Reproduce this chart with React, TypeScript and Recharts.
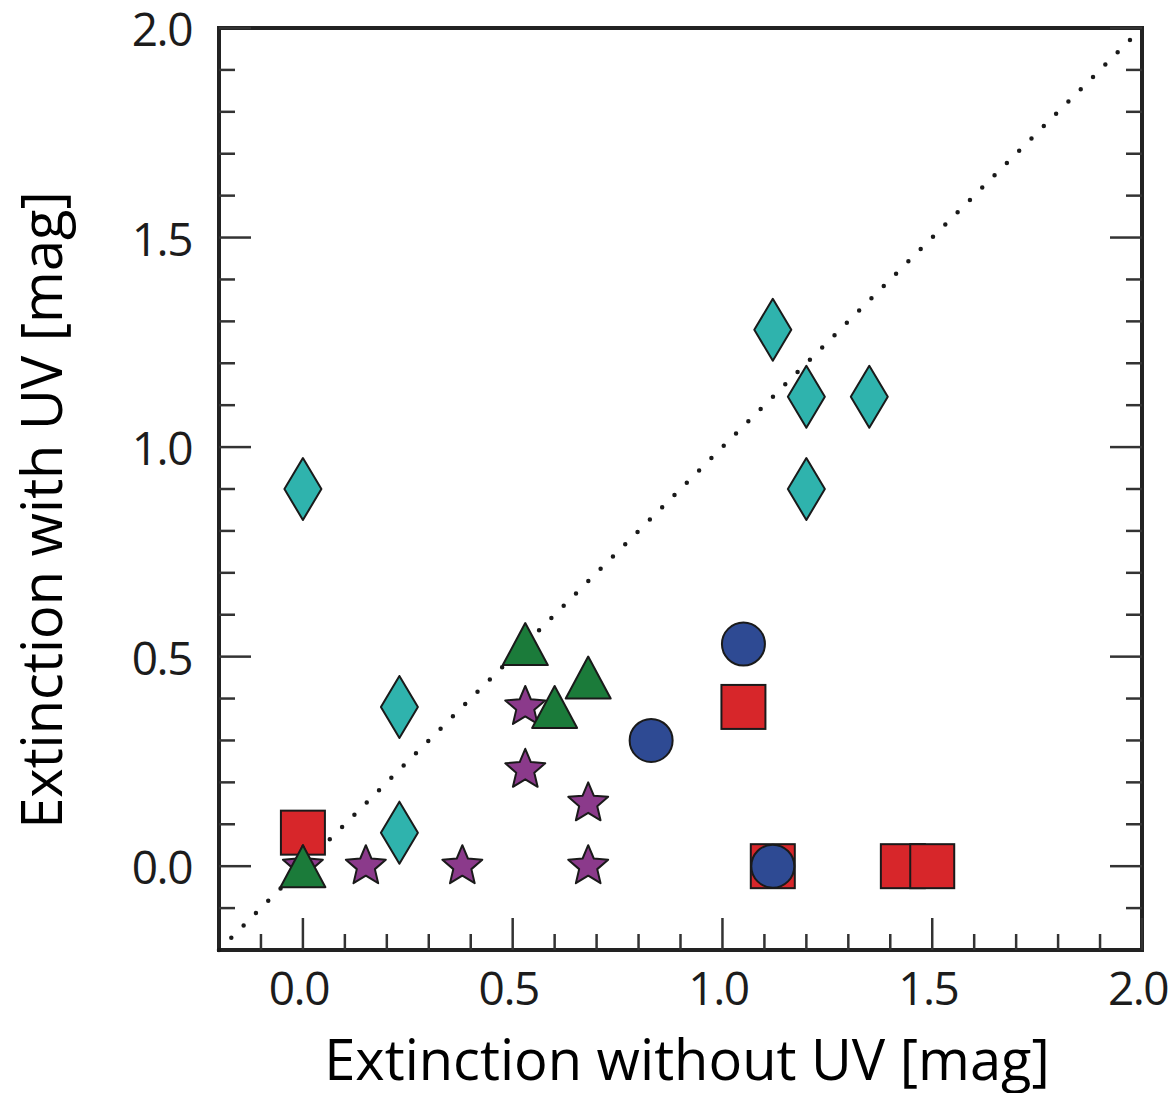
import { ScatterChart, Scatter, XAxis, YAxis, ReferenceArea, ReferenceLine } from 'recharts';

// values
const diamondX = [0.0, 0.23, 0.23, 1.12, 1.2, 1.35, 1.2];
const diamondY = [0.9, 0.38, 0.08, 1.28, 1.12, 1.12, 0.9];

const squareX = [0.0, 1.05, 1.12, 1.43, 1.5];
const squareY = [0.08, 0.38, 0.0, 0.0, 0.0];

const circleX = [1.05, 0.83, 1.12];
const circleY = [0.53, 0.3, 0.0];

const starX = [0.0, 0.15, 0.38, 0.68, 0.53, 0.53, 0.68];
const starY = [0.0, 0.0, 0.0, 0.0, 0.38, 0.23, 0.15];

const triangleX = [0.0, 0.53, 0.6, 0.68];
const triangleY = [0.0, 0.53, 0.38, 0.45];

const TICKS = [-0.1, 0.0, 0.1, 0.2, 0.3, 0.4, 0.5, 0.6, 0.7, 0.8, 0.9, 1.0, 1.1, 1.2, 1.3, 1.4, 1.5, 1.6, 1.7, 1.8, 1.9, 2.0];
const DOMAIN: [number, number] = [-0.2, 2.0];

const FONT = "'Open Sans', sans-serif";
const INK = '#1c1c1c';
const EDGE = '#1a1a1a';

const toPoints = (xs: number[], ys: number[]) => xs.map((x, i) => ({ x, y: ys[i] }));

const isMajor = (v: number) => Math.abs(v * 2 - Math.round(v * 2)) < 1e-6;
const MAJOR = 32;
const MINOR = 16;

const tickLabel = {
  fontFamily: FONT,
  fontSize: 46,
  fill: INK,
  letterSpacing: -1.5,
};

const BottomTick = (props: any) => {
  const { x, y, payload } = props;
  const v = payload.value;
  const len = isMajor(v) ? MAJOR : MINOR;
  return (
    <g>
      <line x1={x} x2={x} y1={y} y2={y - len} stroke="#333" strokeWidth={2.5} />
      {isMajor(v) && (
        <text x={x - 4} y={y + 55} textAnchor="middle" {...tickLabel}>
          {v.toFixed(1)}
        </text>
      )}
    </g>
  );
};

const TopTick = (props: any) => {
  const { x, y, payload } = props;
  const len = isMajor(payload.value) ? MAJOR : MINOR;
  return <line x1={x} x2={x} y1={y} y2={y + len} stroke="#333" strokeWidth={2.5} />;
};

const LeftTick = (props: any) => {
  const { x, y, payload } = props;
  const v = payload.value;
  const len = isMajor(v) ? MAJOR : MINOR;
  return (
    <g>
      <line x1={x} x2={x + len} y1={y} y2={y} stroke="#333" strokeWidth={2.5} />
      {isMajor(v) && (
        <text x={x - 27} y={y + 18} textAnchor="end" {...tickLabel}>
          {v.toFixed(1)}
        </text>
      )}
    </g>
  );
};

const RightTick = (props: any) => {
  const { x, y, payload } = props;
  const len = isMajor(payload.value) ? MAJOR : MINOR;
  return <line x1={x} x2={x - len} y1={y} y2={y} stroke="#333" strokeWidth={2.5} />;
};

// marker shapes
const Diamond = ({ cx, cy }: any) => (
  <polygon
    points={`${cx},${cy - 31} ${cx + 18.5},${cy} ${cx},${cy + 31} ${cx - 18.5},${cy}`}
    fill="#2fb3ad"
    stroke={EDGE}
    strokeWidth={2}
    strokeLinejoin="round"
  />
);

const Square = ({ cx, cy }: any) => (
  <rect x={cx - 22} y={cy - 22} width={44} height={44} fill="#d7262a" stroke={EDGE} strokeWidth={2} />
);

const Circle = ({ cx, cy }: any) => (
  <circle cx={cx} cy={cy} r={21.5} fill="#2e4a93" stroke={EDGE} strokeWidth={2} />
);

const Star = ({ cx, cy }: any) => {
  const pts: string[] = [];
  for (let i = 0; i < 10; i++) {
    const r = i % 2 === 0 ? 21 : 9.5;
    const a = -Math.PI / 2 + (i * Math.PI) / 5;
    pts.push(`${cx + r * Math.cos(a)},${cy + r * Math.sin(a)}`);
  }
  return <polygon points={pts.join(' ')} fill="#8b3a8b" stroke={EDGE} strokeWidth={2} strokeLinejoin="round" />;
};

const Triangle = ({ cx, cy }: any) => (
  <polygon
    points={`${cx},${cy - 21} ${cx + 22.5},${cy + 21} ${cx - 22.5},${cy + 21}`}
    fill="#1b7b3a"
    stroke={EDGE}
    strokeWidth={2}
    strokeLinejoin="round"
  />
);

export default function App() {
  return (
    <div style={{ position: 'absolute', left: 0, top: 0, width: 1172, height: 1093, background: '#fff' }}>
      <ScatterChart width={1172} height={1093} margin={{ top: 0, right: 0, bottom: 113, left: 159 }}>
        <XAxis
          xAxisId="bottom"
          orientation="bottom"
          type="number"
          dataKey="x"
          domain={DOMAIN}
          ticks={TICKS}
          interval={0}
          height={30}
          tickSize={0}
          tickMargin={0}
          tickLine={false}
          axisLine={false}
          tick={<BottomTick />}
          allowDataOverflow
        />
        <XAxis
          xAxisId="top"
          orientation="top"
          type="number"
          domain={DOMAIN}
          ticks={TICKS}
          interval={0}
          height={28}
          tickSize={0}
          tickMargin={0}
          tickLine={false}
          axisLine={false}
          tick={<TopTick />}
          allowDataOverflow
        />
        <YAxis
          yAxisId="left"
          orientation="left"
          type="number"
          dataKey="y"
          domain={DOMAIN}
          ticks={TICKS}
          interval={0}
          width={60}
          tickSize={0}
          tickMargin={0}
          tickLine={false}
          axisLine={false}
          tick={<LeftTick />}
          allowDataOverflow
        />
        <YAxis
          yAxisId="right"
          orientation="right"
          type="number"
          domain={DOMAIN}
          ticks={TICKS}
          interval={0}
          width={30}
          tickSize={0}
          tickMargin={0}
          tickLine={false}
          axisLine={false}
          tick={<RightTick />}
          allowDataOverflow
        />

        <Scatter xAxisId="bottom" yAxisId="left" data={toPoints(diamondX, diamondY)} shape={<Diamond />} isAnimationActive={false} />
        <Scatter xAxisId="bottom" yAxisId="left" data={toPoints(squareX, squareY)} shape={<Square />} isAnimationActive={false} />
        <Scatter xAxisId="bottom" yAxisId="left" data={toPoints(circleX, circleY)} shape={<Circle />} isAnimationActive={false} />
        <Scatter xAxisId="bottom" yAxisId="left" data={toPoints(starX, starY)} shape={<Star />} isAnimationActive={false} />
        <Scatter xAxisId="bottom" yAxisId="left" data={toPoints(triangleX, triangleY)} shape={<Triangle />} isAnimationActive={false} />

        <ReferenceLine
          xAxisId="bottom"
          yAxisId="left"
          segment={[{ x: -0.2, y: -0.2 }, { x: 2.0, y: 2.0 }]}
          stroke="#1a1a1a"
          strokeWidth={4.5}
          strokeDasharray="0 17.4"
          strokeLinecap="round"
        />
        <ReferenceArea
          xAxisId="bottom"
          yAxisId="left"
          x1={-0.2}
          x2={2.0}
          y1={-0.2}
          y2={2.0}
          fill="none"
          fillOpacity={0}
          stroke="#222"
          strokeWidth={4}
        />

        <text x={687} y={1080} textAnchor="middle" fontFamily={FONT} fontSize={56} fill="#000">
          Extinction without UV [mag]
        </text>
        <text
          x={62}
          y={510}
          transform="rotate(-90, 62, 510)"
          textAnchor="middle"
          fontFamily={FONT}
          fontSize={56}
          fill="#000"
        >
          Extinction with UV [mag]
        </text>
      </ScatterChart>
    </div>
  );
}
